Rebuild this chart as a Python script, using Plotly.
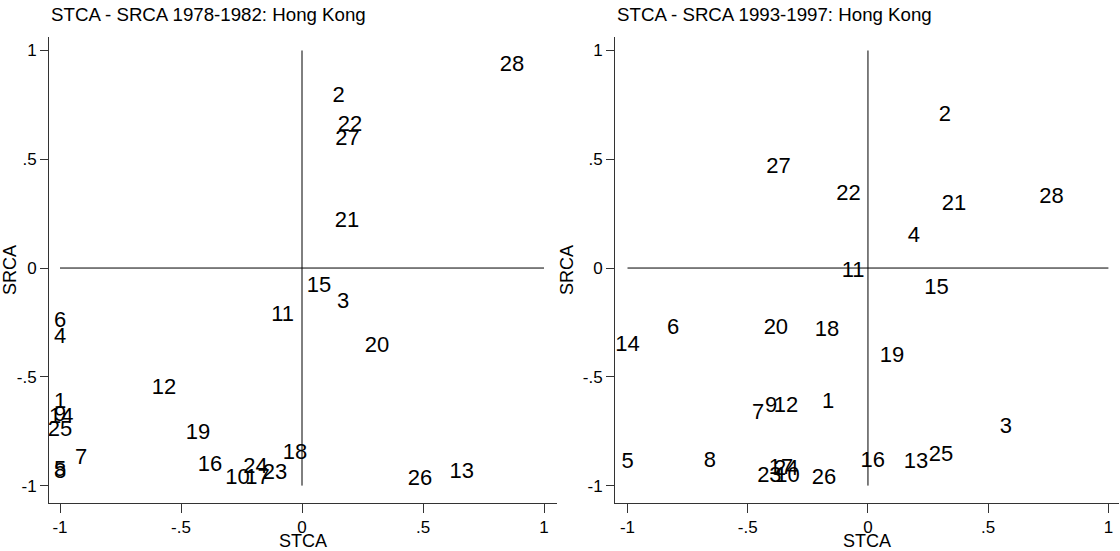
import plotly.graph_objects as go

# ---- data: 1978-1982 panel ----
labels_78 = [str(i) for i in range(1, 29)]
stca_78 = [-1.0, 0.151, 0.17, -1.0, -1.0, -1.0, -0.913, -1.0, -1.0, -0.267,
           -0.08, -0.57, 0.66, -0.995, 0.07, -0.38, -0.184, -0.029, -0.43, 0.31,
           0.186, 0.198, -0.112, -0.192, -1.0, 0.488, 0.188, 0.868]
srca_78 = [-0.616, 0.788, -0.159, -0.317, -0.932, -0.244, -0.874, -0.938, -0.68, -0.966,
           -0.216, -0.552, -0.938, -0.685, -0.087, -0.906, -0.966, -0.851, -0.759, -0.361,
           0.216, 0.653, -0.943, -0.917, -0.749, -0.97, 0.591, 0.933]

# ---- data: 1993-1997 panel ----
labels_93 = [str(i) for i in range(1, 29)]
stca_93 = [-0.166, 0.32, 0.574, 0.191, -1.0, -0.81, -0.457, -0.657, -0.403, -0.335,
           -0.062, -0.341, 0.2, -1.0, 0.285, 0.02, -0.362, -0.17, 0.1, -0.383,
           0.358, -0.081, -0.41, -0.34, 0.304, -0.183, -0.372, 0.763]
srca_93 = [-0.616, 0.699, -0.731, 0.145, -0.892, -0.28, -0.667, -0.887, -0.635, -0.956,
           -0.018, -0.635, -0.892, -0.354, -0.094, -0.887, -0.92, -0.285, -0.405, -0.276,
           0.29, 0.34, -0.958, -0.925, -0.86, -0.966, 0.462, 0.322]

titles = ["STCA - SRCA 1978-1982: Hong Kong", "STCA - SRCA 1993-1997: Hong Kong"]
tick_vals = [-1, -0.5, 0, 0.5, 1]
tick_text = ["-1", "-.5", "0", ".5", "1"]

FONT = "Liberation Sans, Arial, sans-serif"
W, H = 1120, 551

fig = go.Figure()
fig.add_trace(go.Scatter(x=stca_78, y=srca_78, text=labels_78, mode="text",
                         textposition="middle center", xaxis="x", yaxis="y",
                         textfont=dict(family=FONT, size=22, color="black"),
                         hoverinfo="skip", showlegend=False))
fig.add_trace(go.Scatter(x=stca_93, y=srca_93, text=labels_93, mode="text",
                         textposition="middle center", xaxis="x2", yaxis="y2",
                         textfont=dict(family=FONT, size=22, color="black"),
                         hoverinfo="skip", showlegend=False))

# pixel geometry of the two plot areas
left_px = (49, 557)
right_px = (615, 1119)
top_px, bot_px = 37, 503

def xdom(p):
    return [p[0] / W, p[1] / W]

ydom = [(H - bot_px) / H, (H - top_px) / H]

axis_common = dict(
    showgrid=False, zeroline=False, showline=True, linecolor="#333", linewidth=1,
    ticks="outside", tickcolor="#333", tickvals=tick_vals, ticktext=tick_text,
    tickfont=dict(family=FONT, size=17, color="black"),
    title_font=dict(family=FONT, size=18, color="black"),
    mirror=False,
)

fig.update_layout(
    width=W, height=H, margin=dict(l=0, r=0, t=0, b=0),
    paper_bgcolor="white", plot_bgcolor="white",
    xaxis=dict(axis_common, domain=xdom(left_px), range=[-1.0455, 1.0537], anchor="y",
               ticklen=9, title=dict(text="STCA", standoff=2)),
    yaxis=dict(axis_common, domain=ydom, range=[-1.080, 1.062], anchor="x",
               ticklen=8, title=dict(text="SRCA", standoff=4)),
    xaxis2=dict(axis_common, domain=xdom(right_px), range=[-1.052, 1.044], anchor="y2",
                ticklen=9, title=dict(text="STCA", standoff=2)),
    yaxis2=dict(axis_common, domain=ydom, range=[-1.080, 1.062], anchor="x2",
                ticklen=8, title=dict(text="SRCA", standoff=4)),
)

# reference lines at zero
for xr, yr in (("x", "y"), ("x2", "y2")):
    fig.add_shape(type="line", xref=xr, yref=yr, x0=-1, x1=1, y0=0, y1=0,
                  line=dict(color="black", width=1))
    fig.add_shape(type="line", xref=xr, yref=yr, x0=0, x1=0, y0=-1, y1=1,
                  line=dict(color="black", width=1))

# panel titles
for px, t in ((left_px[0], titles[0]), (right_px[0], titles[1])):
    fig.add_annotation(text=t, xref="paper", yref="paper", x=px / W, y=(H - 14) / H,
                       xanchor="left", yanchor="middle", showarrow=False,
                       font=dict(family=FONT, size=18.7, color="black"))

fig.write_html("out.html")
